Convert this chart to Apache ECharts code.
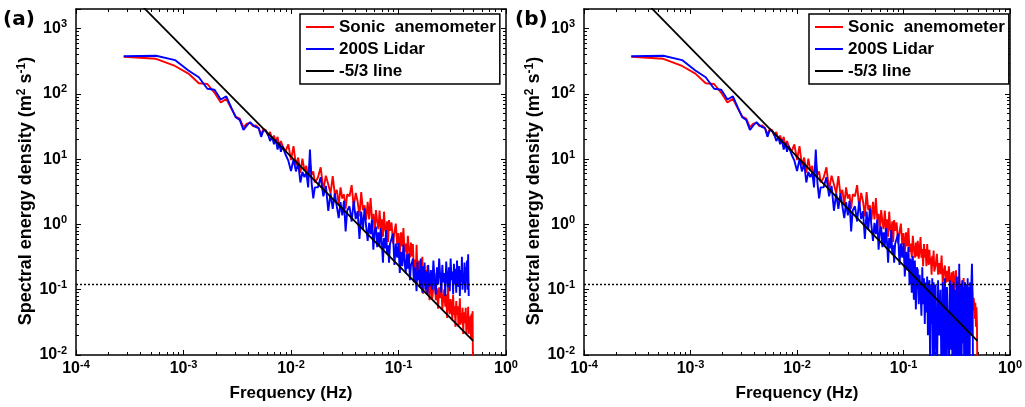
<!DOCTYPE html>
<html><head><meta charset="utf-8">
<script src="https://cdn.jsdelivr.net/npm/echarts@6/dist/echarts.min.js"></script>
<style>html,body{margin:0;padding:0;background:#fff}#c{width:1025px;height:407px}</style>
</head><body><div id="c"></div>
<script>
// FFT bins of a one-hour record: f = k / 3600 Hz; [firstK, lastK, stepK]
const binSegments = [[1,30,1],[32,60,2],[64,120,4],[126,300,6],[310,700,10],[720,1780,20]];
const recordSeconds = 3600;

// Sonic anemometer spectrum, shared by both panels (k = 1 .. 480)
const sonicShared = [372,345,268,205,146,142,104,74,84,60,45,42,31,35,36,32,33,30,24,29,28,23,26,20,23,18,22,15,19,16,
  13.2,16.9,9.7,15.8,8.1,10.6,6.2,10.2,6.7,7.9,5.3,8.8,5.8,6.5,4.4,
  5.2,7.5,3.4,5.6,4.1,3.0,5.5,2.9,3.4,2.0,3.7,2.5,2.9,1.74,2.9,
  2.7,4.0,1.84,3.05,2.25,1.33,3.14,1.66,1.97,1.18,2.22,1.19,2.53,1.2,1.45,0.78,1.66,1.12,0.85,1.63,0.88,1.2,0.65,1.57,0.85,0.73,1.12,0.54,1.17,0.8,
  1.07,0.51,0.76,1.03,0.49,0.74,0.355,0.76,0.46,0.88,0.38,0.51,0.31,0.67,0.41,0.31,0.53,0.325];
// Sonic, panel (a), k = 490 .. 1780
const sonicHighA = [0.5,0.19,0.29,0.14,0.49,0.19,0.146,0.28,0.109,0.21,0.145,0.32,0.087,0.17,0.116,0.2,0.088,0.135,0.235,0.091,0.112,0.069,
  0.166,0.071,0.107,0.18,0.069,0.105,0.051,0.109,0.074,0.128,0.049,0.075,0.102,0.055,0.085,0.037,0.113,0.055,0.042,0.072,
  0.056,0.034,0.084,0.041,0.056,0.027,0.067,0.041,0.056,0.0275,0.043,0.074,0.029,0.044,0.031,0.053,0.021,0.045,0.031,0.034,
  0.053,0.021,0.036,0.025,0.055,0.021,0.037,0.026,0.04,0.0177,0.043,0.021,0.047,0.0033];
// Sonic, panel (b), k = 490 .. 1780
const sonicHighB = [0.56,0.30,0.41,0.64,0.31,0.42,0.23,0.5,0.31,0.42,0.23,0.5,0.31,0.24,0.41,0.25,0.31,0.17,0.33,0.23,0.4,0.19,
  0.234,0.355,0.17,0.257,0.174,0.333,0.127,0.194,0.235,0.128,0.195,0.133,0.229,0.139,0.095,0.185,0.126,0.194,0.094,0.129,
  0.199,0.097,0.132,0.081,0.158,0.097,0.119,0.065,0.126,0.098,0.151,0.066,0.102,0.079,0.122,0.067,0.104,0.081,0.056,0.109,
  0.067,0.083,0.057,0.112,0.069,0.048,0.075,0.058,0.036,0.063,0.027,0.054,0.03,0.004];
// 200S Lidar spectrum, shared by both panels (k = 1 .. 300)
const lidarShared = [378,385,330,228,180,120,116,82,92,62,44,40,28,33,37,33,31,30,22,28,27,24,19,22,17,20,14,18,13,16,
  11.8,9.5,6.6,10,6.5,8.8,4.4,6.4,5.3,6.3,3.7,14,4.3,2.5,3.7,
  3.7,5.3,2.7,3.9,1.62,3.0,1.74,3.0,1.9,1.25,2.2,1.38,2.3,0.78,1.64,
  1.9,1.11,2.3,1.21,1.6,0.6,1.57,0.83,1.76,0.94,0.56,1.06,0.71,1.2,0.41,0.78,0.93,0.45,0.76,0.46,0.88,0.53,0.26,0.62,0.43,0.82,0.35,0.48,0.26,0.5];
// Lidar, panel (a), k = 310 .. 1620
const lidarHighA = [0.48,0.72,0.24,0.51,0.31,0.52,0.18,0.38,0.23,0.49,0.27,0.18,0.35,0.21,0.36,0.14,0.24,0.26,
  0.3,0.13,0.22,0.16,0.095,0.27,0.14,0.2,0.11,0.3,0.17,0.09,0.23,0.13,0.26,0.1,0.19,0.14,0.085,0.24,0.15,0.11,
  0.2,0.1,0.28,0.14,0.085,0.22,0.12,0.3,0.16,0.09,0.24,0.13,0.18,0.08,0.27,0.15,0.11,0.22,0.095,0.3,
  0.14,0.19,0.085,0.25,0.12,0.21,0.09,0.28,0.15,0.11,0.23,0.08,0.2,0.13,0.32,0.1,0.18,0.12,0.26,0.09,
  0.22,0.14,0.28,0.1,0.35,0.08];
// Lidar, panel (b), k = 310 .. 1620
const lidarHighB = [0.48,0.72,0.24,0.51,0.31,0.52,0.16,0.38,0.2,0.45,0.12,0.3,0.09,0.33,0.07,0.28,0.05,0.22,
  0.2,0.06,0.17,0.09,0.04,0.22,0.06,0.15,0.03,0.13,0.045,0.16,0.02,0.11,0.14,0.006,0.12,0.03,0.15,0.004,0.13,0.01,
  0.12,0.003,0.14,0.02,0.1,0.003,0.13,0.008,0.15,0.003,0.11,0.03,0.003,0.14,0.012,0.12,0.003,0.13,0.005,0.1,
  0.003,0.16,0.02,0.003,0.25,0.006,0.12,0.003,0.14,0.015,0.11,0.003,0.13,0.004,0.12,0.003,0.15,0.01,0.11,0.003,
  0.13,0.02,0.12,0.25,0.09,0.003];
// -5/3 reference line end points [f, S]
const slopeLine = [[0.0003, 3770], [0.494, 0.0164]];
// horizontal dotted noise level
const noiseLevel = 0.12;
const xRange = [1e-4, 1];
const yRange = [0.01, 2000];
const seriesNames = ['Sonic  anemometer', '200S Lidar', '-5/3 line'];
const panelLabels = ['(a)', '(b)'];
const axisTitles = { x: 'Frequency (Hz)', y: 'Spectral energy density (m{s|2} s{s|-1})' };

const freqHz = [];
binSegments.forEach(([a, b, s]) => { for (let k = a; k <= b; k += s) freqHz.push(k / recordSeconds); });
const pair = vals => vals.map((v, i) => [freqHz[i], v]);

const FONT = "'Liberation Sans', Arial, Helvetica, sans-serif";
const grids = [{left:76, top:9, width:430, height:348}, {left:584, top:9, width:430, height:348}];
const panels = [
  { sonic: sonicShared.concat(sonicHighA), lidar: lidarShared.concat(lidarHighA) },
  { sonic: sonicShared.concat(sonicHighB), lidar: lidarShared.concat(lidarHighB) }
];
function decadeMinors(lo, hi) { const out = []; for (let e = lo; e < hi; e++) for (let m = 2; m <= 9; m++) out.push(m * Math.pow(10, e)); return out; }
const xMinor = decadeMinors(-4, 0);
const yMinor = decadeMinors(-2, 3);

function powLabel(v) {
  const l = Math.log10(v), n = Math.round(l);
  if (Math.abs(l - n) > 1e-6) return '';
  return '{b|10}{s|' + n + '}';
}
const labelRich = {
  b: { fontSize: 16, fontWeight: 'bold', fontFamily: FONT, color: '#000' },
  s: { fontSize: 11, fontWeight: 'bold', fontFamily: FONT, color: '#000', padding: [0, 0, 9, 0] }
};
const lineBlack = { color: '#000', width: 1.5 };

const xAxis = [], yAxis = [], series = [], legend = [], graphic = [];
grids.forEach((g, p) => {
  const base = { gridIndex: p, type: 'log', logBase: 10, splitLine: { show: false } };
  xAxis.push(Object.assign({}, base, { min: xRange[0], max: xRange[1], position: 'bottom',
    axisLine: { show: true, onZero: false, lineStyle: lineBlack },
    axisTick: { inside: true, length: 5, lineStyle: { color: '#000', width: 1 } },
    axisLabel: { formatter: powLabel, rich: labelRich, margin: 4, hideOverlap: false },
    name: axisTitles.x, nameLocation: 'middle', nameGap: 30,
    nameTextStyle: { fontFamily: FONT, fontSize: 17, fontWeight: 'bold', color: '#000' } }));
  xAxis.push(Object.assign({}, base, { min: xRange[0], max: xRange[1], position: 'top',
    axisLine: { show: true, onZero: false, lineStyle: lineBlack },
    axisTick: { inside: true, length: 5, lineStyle: { color: '#000', width: 1 } }, axisLabel: { show: false } }));
  ['bottom', 'top'].forEach(pos => xAxis.push(Object.assign({}, base, { min: xRange[0], max: xRange[1], position: pos,
    axisLine: { show: false }, axisLabel: { show: false },
    axisTick: { inside: true, length: 3, customValues: xMinor, lineStyle: { color: '#000', width: 1 } } })));

  yAxis.push(Object.assign({}, base, { min: yRange[0], max: yRange[1], position: 'left',
    axisLine: { show: true, onZero: false, lineStyle: lineBlack },
    axisTick: { inside: true, length: 5, lineStyle: { color: '#000', width: 1 } },
    axisLabel: { formatter: powLabel, rich: labelRich, margin: 9, hideOverlap: false },
    name: axisTitles.y, nameLocation: 'middle', nameGap: 38,
    nameTextStyle: { fontFamily: FONT, fontSize: 18, fontWeight: 'bold', color: '#000', padding: [0, 18, 0, 0],
      rich: { s: { fontFamily: FONT, fontSize: 12, fontWeight: 'bold', color: '#000', padding: [0, 0, 9, 0] } } } }));
  yAxis.push(Object.assign({}, base, { min: yRange[0], max: yRange[1], position: 'right',
    axisLine: { show: true, onZero: false, lineStyle: lineBlack },
    axisTick: { inside: true, length: 5, lineStyle: { color: '#000', width: 1 } }, axisLabel: { show: false } }));
  ['left', 'right'].forEach(pos => yAxis.push(Object.assign({}, base, { min: yRange[0], max: yRange[1], position: pos,
    axisLine: { show: false }, axisLabel: { show: false },
    axisTick: { inside: true, length: 3, customValues: yMinor, lineStyle: { color: '#000', width: 1 } } })));

  const ax = { xAxisIndex: 4 * p, yAxisIndex: 4 * p };
  series.push(Object.assign({ type: 'line', name: seriesNames[0], data: pair(panels[p].sonic), symbol: 'none',
    lineStyle: { color: '#ff0000', width: 1.9 }, itemStyle: { color: '#ff0000' }, z: 2, animation: false }, ax));
  series.push(Object.assign({ type: 'line', name: seriesNames[1], data: pair(panels[p].lidar), symbol: 'none',
    lineStyle: { color: '#0000ff', width: 1.9 }, itemStyle: { color: '#0000ff' }, z: 3, animation: false }, ax));
  series.push(Object.assign({ type: 'line', name: seriesNames[2], data: slopeLine, symbol: 'none',
    lineStyle: { color: '#000', width: 1.8 }, itemStyle: { color: '#000' }, z: 4, animation: false }, ax));
  series.push(Object.assign({ type: 'line', name: 'noise level', data: [[xRange[0], noiseLevel], [xRange[1], noiseLevel]], symbol: 'none',
    lineStyle: { color: '#000', width: 1.5, type: [2, 2] }, z: 5, animation: false }, ax));

  legend.push({ left: g.left + (p === 0 ? 224 : 225), top: 14, orient: 'vertical', data: seriesNames, icon: 'rect',
    itemWidth: 28, itemHeight: 2, itemGap: 4, padding: [4, 4, 4, 6], borderColor: '#000', borderWidth: 1.5,
    backgroundColor: '#fff', selectedMode: false,
    textStyle: { fontFamily: FONT, fontSize: 17, fontWeight: 'bold', color: '#000', lineHeight: 18 } });
  graphic.push({ type: 'text', left: p === 0 ? 3 : 515, top: 10,
    style: { text: panelLabels[p], font: "bold 20px 'DejaVu Sans', " + FONT, fill: '#000' } });
});

const chart = echarts.init(document.getElementById('c'), null, { renderer: 'canvas' });
chart.setOption({ animation: false, backgroundColor: '#fff', grid: grids, xAxis, yAxis, series, legend, graphic });
</script></body></html>
